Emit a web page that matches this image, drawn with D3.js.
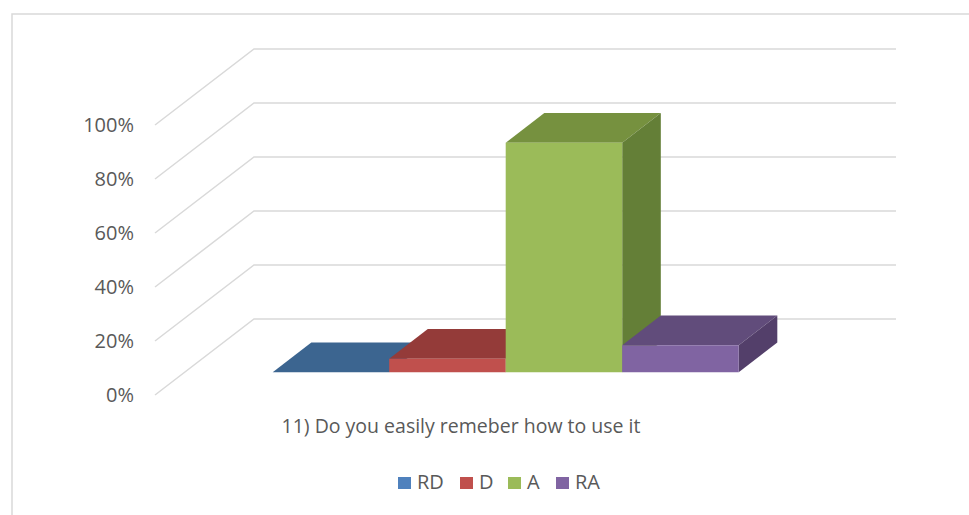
<!DOCTYPE html>
<html lang="en">
  <head>
    <meta charset="UTF-8" />
    <title>11) Do you easily remeber how to use it</title>
    <script src="https://cdn.jsdelivr.net/npm/d3@7"></script>
    <style>
      body {
        margin: 0;
        background-color: white;
        font-family: 'Open Sans', Arial, sans-serif;
      }

      svg {
        display: block;
      }

      .tick-label,
      .cat-label,
      .legend-label {
        fill: #595959;
        font-size: 20px;
      }

      .cat-label {
        font-size: 19.5px;
      }

      .grid {
        stroke: #d9d9d9;
        stroke-width: 1.5;
        fill: none;
      }
    </style>
  </head>
  <body>
    <svg width="969" height="515"></svg>

    <script>
      // data
      const category = '11) Do you easily remeber how to use it';
      const series = ['RD', 'D', 'A', 'RA'];
      const values = [0, 0.05, 0.85, 0.1];
      const tickValues = [0, 0.2, 0.4, 0.6, 0.8, 1.0];

      const frontColors = ['#4f81bd', '#c0504d', '#9bbb59', '#8064a2'];
      const topColors = ['#3c6590', '#943b39', '#76913f', '#614c7b'];
      const sideColors = ['#34587e', '#7f3230', '#647f37', '#533f6a'];

      const svg = d3.select('svg');

      // chart frame
      svg
        .append('rect')
        .attr('x', 12)
        .attr('y', 14)
        .attr('width', 980)
        .attr('height', 520)
        .attr('fill', 'white')
        .attr('stroke', '#d9d9d9')
        .attr('stroke-width', 1.5);

      // oblique 3d box: front floor corner, width, depth vector
      const x0 = 155;
      const floorW = 642;
      const DX = 99;
      const DY = 76;

      const yFront = d3.scaleLinear().domain([0, 1]).range([395, 125]);
      const xBand = d3.scaleBand().domain(series).range([88, 554]).padding(0);

      // z is depth fraction (0 front, 1 back wall)
      const proj = (x, v, z) => [x0 + x + z * DX, yFront(v) - z * DY];
      const pts = (arr) => arr.map((p) => p.join(',')).join(' ');

      // side wall diagonals + back wall gridlines
      const grid = svg.append('g');
      tickValues.forEach((t) => {
        grid
          .append('polyline')
          .attr('class', 'grid')
          .attr('points', pts([proj(0, t, 0), proj(0, t, 1), proj(floorW, t, 1)]));
      });

      // y labels
      svg
        .append('g')
        .selectAll('text')
        .data(tickValues)
        .join('text')
        .attr('class', 'tick-label')
        .attr('x', 134)
        .attr('y', (d) => yFront(d))
        .attr('dy', '0.35em')
        .attr('text-anchor', 'end')
        .text(d3.format('.0%'));

      // bars, drawn left to right so later bars hide earlier sides
      const z1 = 0.3;
      const z2 = 0.69;
      const bars = svg.append('g');

      series.forEach((s, i) => {
        const xa = xBand(s);
        const xb = xa + xBand.bandwidth();
        const v = values[i];
        const g = bars.append('g').attr('class', 'bar');
        // top face
        g.append('polygon')
          .attr('fill', topColors[i])
          .attr('points', pts([proj(xa, v, z1), proj(xb, v, z1), proj(xb, v, z2), proj(xa, v, z2)]));
        if (v > 0) {
          // right side
          g.append('polygon')
            .attr('fill', sideColors[i])
            .attr('points', pts([proj(xb, 0, z1), proj(xb, v, z1), proj(xb, v, z2), proj(xb, 0, z2)]));
          // front
          g.append('polygon')
            .attr('fill', frontColors[i])
            .attr('points', pts([proj(xa, 0, z1), proj(xb, 0, z1), proj(xb, v, z1), proj(xa, v, z1)]));
        }
      });

      // category label
      svg
        .append('text')
        .attr('class', 'cat-label')
        .attr('x', 461)
        .attr('y', 433)
        .attr('text-anchor', 'middle')
        .text(category);

      // legend
      const legendX = [398, 460, 508, 556];
      const legend = svg
        .append('g')
        .selectAll('g')
        .data(series)
        .join('g')
        .attr('transform', (d, i) => `translate(${legendX[i]},477)`);

      legend
        .append('rect')
        .attr('width', 13)
        .attr('height', 12)
        .attr('fill', (d, i) => frontColors[i]);

      legend
        .append('text')
        .attr('class', 'legend-label')
        .attr('x', 19)
        .attr('y', 12)
        .text((d) => d);
    </script>
  </body>
</html>
